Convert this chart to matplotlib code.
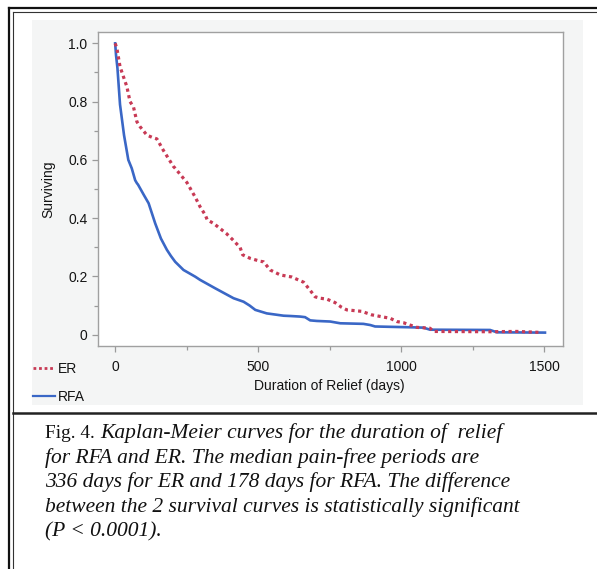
import matplotlib
matplotlib.use("Agg")
import matplotlib.pyplot as plt
from matplotlib.lines import Line2D
from matplotlib.patches import Rectangle

# ---------------- data ----------------
er_days = [0, 6, 17, 41, 52, 64, 76, 87, 111, 130, 146, 169, 204, 210, 251,
           280, 297, 315, 322, 344, 388, 412, 437, 446, 472, 507, 519, 542,
           565, 577, 617, 659, 682, 699, 717, 740, 769, 790, 810, 862, 897,
           962, 985, 1008, 1031, 1055, 1101, 1113, 1311, 1405, 1480]
er_surv = [1.0, 0.983, 0.92, 0.851, 0.80, 0.782, 0.731, 0.714, 0.685, 0.677,
           0.672, 0.632, 0.577, 0.571, 0.522, 0.472, 0.439, 0.411, 0.394,
           0.382, 0.348, 0.325, 0.299, 0.274, 0.262, 0.252, 0.25, 0.222,
           0.211, 0.205, 0.198, 0.18, 0.152, 0.13, 0.125, 0.122, 0.11, 0.095,
           0.085, 0.08, 0.068, 0.056, 0.045, 0.041, 0.033, 0.025, 0.022,
           0.011, 0.010, 0.011, 0.008]

rfa_days = [0, 3, 8, 17, 31, 46, 58, 70, 76, 80, 100, 117, 140, 160, 181, 195,
            210, 239, 280, 297, 350, 414, 449, 470, 490, 530, 589, 612, 647,
            664, 682, 705, 752, 787, 868, 892, 909, 1043, 1078, 1101, 1311,
            1335, 1503]
rfa_surv = [1.0, 0.96, 0.915, 0.79, 0.685, 0.60, 0.571, 0.53, 0.52, 0.515,
            0.48, 0.451, 0.382, 0.33, 0.291, 0.27, 0.25, 0.222, 0.199, 0.188,
            0.159, 0.125, 0.113, 0.10, 0.085, 0.073, 0.065, 0.064, 0.062,
            0.060, 0.049, 0.047, 0.045, 0.039, 0.037, 0.033, 0.028, 0.025,
            0.024, 0.017, 0.016, 0.008, 0.007]

x_ticks = [0, 500, 1000, 1500]
x_tick_labels = ["0", "500", "1000", "1500"]
y_ticks = [0, 0.2, 0.4, 0.6, 0.8, 1.0]
y_tick_labels = ["0", "0.2", "0.4", "0.6", "0.8", "1.0"]

series_names = ["ER", "RFA"]
x_label = "Duration of Relief (days)"
y_label = "Surviving"

caption_head = "Fig. 4."
caption_lines = [
    "Kaplan-Meier curves for the duration of  relief",
    "for RFA and ER. The median pain-free periods are",
    "336 days for ER and 178 days for RFA. The difference",
    "between the 2 survival curves is statistically significant",
    "(P < 0.0001).",
]

# ---------------- figure ----------------
W, H = 597, 569
DPI = 100
fig = plt.figure(figsize=(W / DPI, H / DPI), dpi=DPI)
fig.patch.set_facecolor("white")
plt.rcParams["font.family"] = ["Liberation Sans", "DejaVu Sans"]


def fx(px):
    return px / W


def fy(py):
    return 1 - py / H


RED = "#c83a55"
BLUE = "#3a67c6"
GRAY = "#9a9a9a"
TXT = "#141414"
FS = 10

# light gray panel behind the chart
fig.patches.append(Rectangle((fx(32), fy(405)), fx(583) - fx(32), fy(20) - fy(405),
                             transform=fig.transFigure, facecolor="#f4f5f5",
                             edgecolor="none", zorder=-5))

# frame lines of the figure box
fig.lines.append(Line2D([fx(9), 1], [fy(8.3), fy(8.3)], transform=fig.transFigure,
                        color="#111111", lw=1.6))
fig.lines.append(Line2D([fx(12.5), 1], [fy(12), fy(12)], transform=fig.transFigure,
                        color="#333333", lw=0.8))
fig.lines.append(Line2D([fx(9.3), fx(9.3)], [fy(8.3), 0], transform=fig.transFigure,
                        color="#111111", lw=1.6))
fig.lines.append(Line2D([fx(12.7), fx(12.7)], [fy(12), 0], transform=fig.transFigure,
                        color="#333333", lw=0.8))
fig.lines.append(Line2D([fx(12.7), 1], [fy(413), fy(413)], transform=fig.transFigure,
                        color="#222222", lw=1.8))

# axes
ax = fig.add_axes([fx(98), fy(346), fx(563) - fx(98), fy(32) - fy(346)])
ax.set_zorder(2)
ax.set_facecolor("white")
ax.set_xlim(-60, 1566)
ax.set_ylim(-0.039, 1.039)

ax.plot(er_days, er_surv, color=RED, lw=2.3, linestyle=(0, (1.0, 1.1)),
        dash_capstyle="butt", label=series_names[0], zorder=3)
ax.plot(rfa_days, rfa_surv, color=BLUE, lw=1.9, label=series_names[1], zorder=2,
        solid_joinstyle="miter")

for s in ax.spines.values():
    s.set_color("#a0a0a0")
    s.set_linewidth(1.0)

ax.set_xticks(x_ticks)
ax.set_xticklabels(x_tick_labels)
ax.set_yticks(y_ticks)
ax.set_yticklabels(y_tick_labels)
ax.set_xticks([250, 750, 1250], minor=True)
ax.set_yticks([0.1, 0.3, 0.5, 0.7, 0.9], minor=True)
ax.tick_params(axis="both", which="major", length=4.5, width=0.9, color=GRAY,
               labelsize=FS, labelcolor=TXT)
ax.tick_params(axis="both", which="minor", length=2.8, width=0.9, color=GRAY)
ax.tick_params(axis="y", which="major", pad=3.0)
ax.tick_params(axis="x", which="major", pad=5.5)

ax.set_xlabel(x_label, fontsize=FS, color=TXT)
ax.xaxis.set_label_coords(0.497, -0.105)
ax.set_ylabel(y_label, fontsize=FS, color=TXT)
ax.yaxis.set_label_coords(-0.092, 0.5)

# legend at lower left of panel
handles = [Line2D([0], [0], color=RED, lw=2.0, linestyle=(0, (1.0, 1.0))),
           Line2D([0], [0], color=BLUE, lw=1.6)]
leg = fig.legend(handles, series_names, loc="upper left",
                 bbox_to_anchor=(fx(33), fy(362)), frameon=False, fontsize=FS,
                 handlelength=1.6, handletextpad=0.2, labelspacing=1.0,
                 borderpad=0, borderaxespad=0, labelcolor=TXT)
leg.set_zorder(3)

# ---------------- caption ----------------
serif = ["Liberation Serif", "DejaVu Serif"]
fig.canvas.draw()
renderer = fig.canvas.get_renderer()
probe = fig.text(0, 0, caption_lines[3], fontsize=10, family=serif, style="italic")
w = probe.get_window_extent(renderer).width
probe.remove()
cap_size = 10 * (522 - 45) / w

baselines = [438, 463, 487.5, 512, 536]
head = fig.text(fx(45), fy(baselines[0]), caption_head, fontsize=cap_size * 0.9,
                family=serif, va="baseline", ha="left", color="#111111")
head_end = head.get_window_extent(renderer).x1
fig.text((head_end + 6) / W, fy(baselines[0]), caption_lines[0], fontsize=cap_size,
         family=serif, style="italic", va="baseline", ha="left", color="#111111")
for line, b in zip(caption_lines[1:], baselines[1:]):
    fig.text(fx(45), fy(b), line, fontsize=cap_size, family=serif, style="italic",
             va="baseline", ha="left", color="#111111")

fig.savefig("out.png", dpi=DPI)
